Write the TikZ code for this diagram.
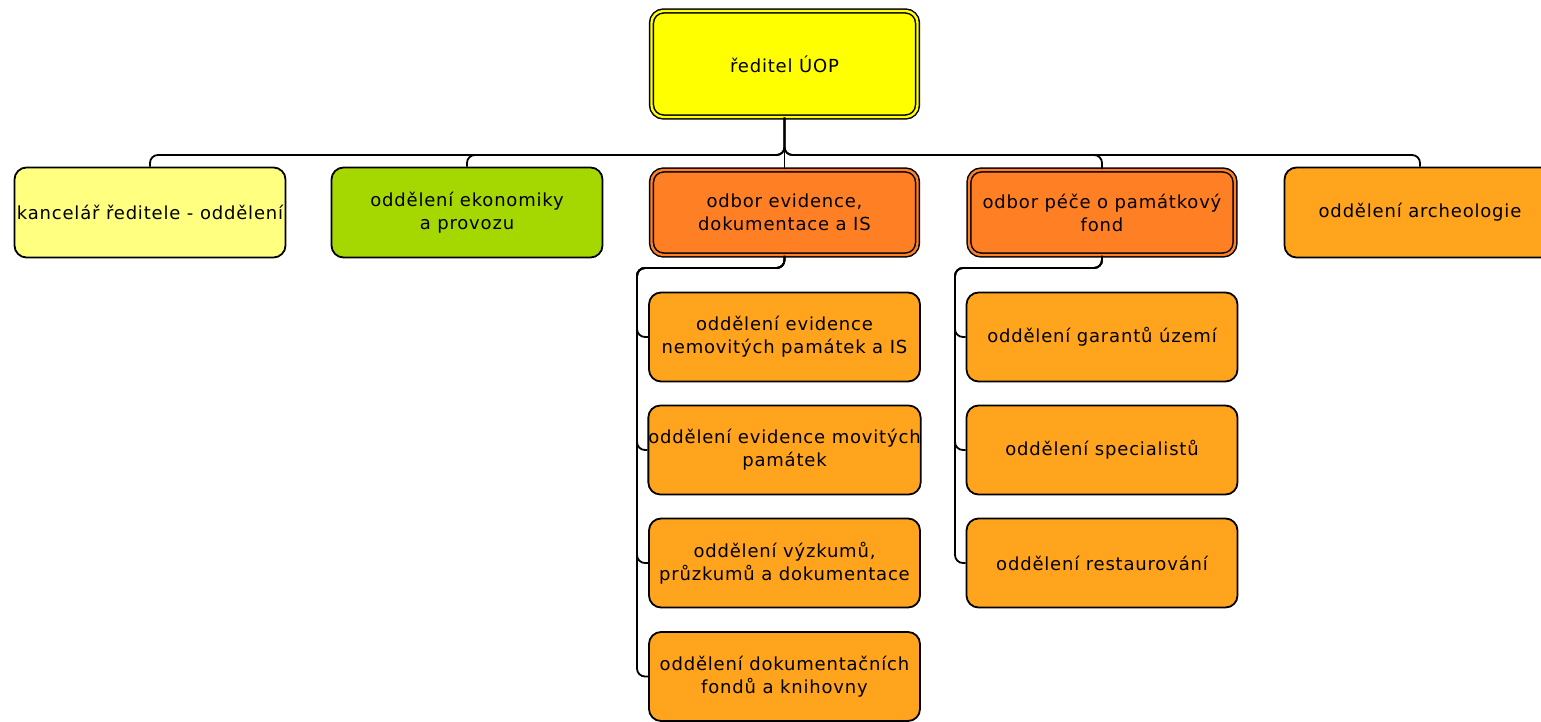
\documentclass[tikz,border=0pt]{standalone}
\usepackage{fontspec}
\setmainfont{DejaVu Sans}[LetterSpace=4.5]
\usetikzlibrary{positioning}

\definecolor{uredyellow}{HTML}{FFFF00}
\definecolor{paleyellow}{HTML}{FFFF80}
\definecolor{limegreen}{HTML}{A5D700}
\definecolor{darkorange}{HTML}{FF7F24}
\definecolor{lightorange}{HTML}{FFA41C}

\tikzset{
    unit/.style={draw=black, line width=1.8pt, rounded corners=12pt,
        minimum width=271pt, minimum height=90pt, align=center,
        inner sep=0pt, font=\fontsize{18}{23}\selectfont},
    odbor/.style={unit, double=#1, double distance=2.4pt, line width=1.5pt,
        minimum width=266pt, minimum height=85pt, fill=#1},
    oddel/.style={unit, fill=#1},
    sub/.style={oddel=lightorange, minimum height=89pt},
    link/.style={draw=black, line width=1.8pt, rounded corners=8pt}
}

\begin{document}
\begin{tikzpicture}[x=1pt, y=-1pt]
    \useasboundingbox (0, 0) rectangle (1541, 722);
    \node[odbor=uredyellow, minimum height=106pt] (ured) at (784.5, 64) {ředitel ÚOP};
    \node[oddel=paleyellow] (kancelar) at (150, 212.5) {kancelář ředitele - oddělení};
    \node[oddel=limegreen] (ekonom) at (467, 212.5) {oddělení ekonomiky\\a provozu};
    \node[odbor=darkorange] (evidence) at (784.5, 212.5) {odbor evidence,\\dokumentace a IS};
    \node[odbor=darkorange] (pece) at (1102, 212.5) {odbor péče o památkový\\fond};
    \node[oddel=lightorange] (archeo) at (1420, 212.5) {oddělení archeologie};
    \node[sub] (ev1) at (784.5, 337) {oddělení evidence\\nemovitých památek a IS};
    \node[sub] (ev2) at (784.5, 450) {oddělení evidence movitých\\památek};
    \node[sub] (ev3) at (784.5, 563) {oddělení výzkumů,\\průzkumů a dokumentace};
    \node[sub] (ev4) at (784.5, 676.5) {oddělení dokumentačních\\fondů a knihovny};
    \node[sub] (pf1) at (1102, 337) {oddělení garantů území};
    \node[sub] (pf2) at (1102, 450) {oddělení specialistů};
    \node[sub] (pf3) at (1102, 563) {oddělení restaurování};
    \coordinate (hub) at (784.5, 155);
    \coordinate (evbus) at (637, 268);
    \coordinate (pfbus) at (955, 268);
    % vedeni
    \draw[link] (ured.south) -- (evidence.north);
    \foreach \n in {kancelar, ekonom, pece, archeo}
        \draw[link] (ured.south) -- (hub) -| (\n.north);
    % odbory
    \foreach \n in {ev1, ev2, ev3, ev4}
        \draw[link] (evidence.south) |- (evbus) |- (\n.west);
    \foreach \n in {pf1, pf2, pf3}
        \draw[link] (pece.south) |- (pfbus) |- (\n.west);
\end{tikzpicture}
\end{document}
